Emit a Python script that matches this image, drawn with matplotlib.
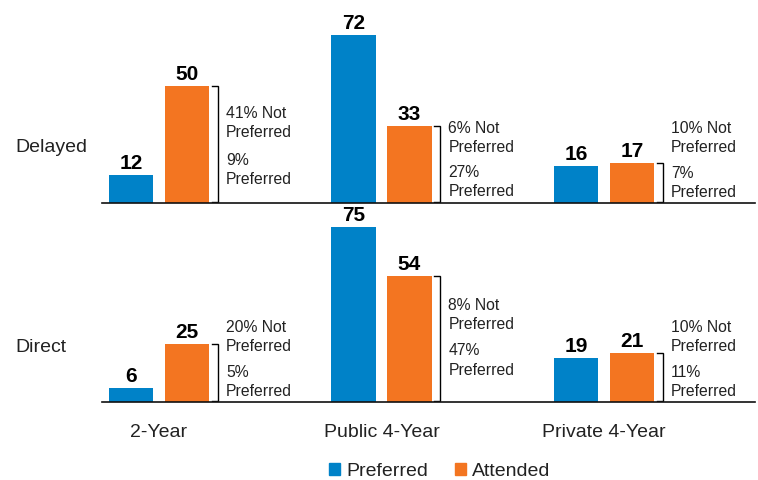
import matplotlib
matplotlib.use("Agg")
from matplotlib import pyplot as plt
from matplotlib.patches import Patch
import numpy as np

plt.rcParams["font.family"] = ["Liberation Sans", "DejaVu Sans"]

# data
groups = ["2-Year", "Public 4-Year", "Private 4-Year"]
panels = ["Delayed", "Direct"]
preferred = {"Delayed": [12, 72, 16], "Direct": [6, 75, 19]}
attended = {"Delayed": [50, 33, 17], "Direct": [25, 54, 21]}
not_pref_pct = {"Delayed": [41, 6, 10], "Direct": [20, 8, 10]}
pref_pct = {"Delayed": [9, 27, 7], "Direct": [5, 47, 11]}

# where the two note blocks sit (data units above the baseline)
note_upper = {"Delayed": [34.6, 28.2, 28.2], "Direct": [28.2, 37.6, 28.2]}
note_lower = {"Delayed": [14.5, 9.4, 9.0], "Direct": [9.0, 18.0, 9.0]}

blue = "#0082C8"
orange = "#F37521"
txt = "#222222"

fig = plt.figure(figsize=(7.58, 4.81), dpi=100)
W, H = 758, 481
left, right = 102 / W, 755 / W
ax_top = fig.add_axes([left, (H - 204) / H, right - left, 194 / H])
ax_bot = fig.add_axes([left, (H - 403) / H, right - left, 188 / H])
scale = 2.34  # px per unit

x = np.arange(len(groups))
w = 0.2
off = 0.125

for ax, panel, top_px in [(ax_top, "Delayed", 194), (ax_bot, "Direct", 188)]:
    p = preferred[panel]
    a = attended[panel]
    b1 = ax.bar(x - off, p, w, color=blue)
    b2 = ax.bar(x + off, a, w, color=orange)
    for bars in (b1, b2):
        for r in bars:
            ax.annotate(str(int(r.get_height())),
                        (r.get_x() + r.get_width() / 2, r.get_height()),
                        xytext=(0, 5), textcoords="offset points",
                        ha="center", va="baseline", fontsize=15,
                        fontweight="bold", color="black")
    for i in range(len(groups)):
        bx = x[i] + off + w / 2 + 0.038
        h = a[i]
        ax.plot([bx - 0.026, bx, bx, bx - 0.026], [h, h, 0.6, 0.6],
                color="black", lw=1, solid_joinstyle="miter")
        ax.text(x[i] + 0.301, note_upper[panel][i],
                f"{not_pref_pct[panel][i]}% Not\nPreferred",
                ha="left", va="center", fontsize=11.3, linespacing=1.4,
                color=txt)
        ax.text(x[i] + 0.301, note_lower[panel][i],
                f"{pref_pct[panel][i]}%\nPreferred",
                ha="left", va="center", fontsize=11.3, linespacing=1.4,
                color=txt)
    ax.set_xlim(-57 / 222.5, 596 / 222.5)
    ax.set_ylim(0, top_px / scale)
    for s in ["top", "right", "left"]:
        ax.spines[s].set_visible(False)
    ax.spines["bottom"].set_linewidth(1.2)
    ax.spines["bottom"].set_color("#111111")
    ax.set_xticks([])
    ax.set_yticks([])
    ax.patch.set_visible(False)

fig.text(15 / W, 1 - 148 / H, "Delayed", fontsize=14, color=txt,
         ha="left", va="center")
fig.text(15 / W, 1 - 348 / H, "Direct", fontsize=14, color=txt,
         ha="left", va="center")

for i, g in enumerate(groups):
    ax_bot.annotate(g, (x[i], 0), xycoords=("data", "axes fraction"),
                    xytext=(0, -21), textcoords="offset points",
                    ha="center", va="center", fontsize=14, color=txt)

handles = [Patch(color=blue, label="Preferred"),
           Patch(color=orange, label="Attended")]
fig.legend(handles=handles, loc="center", bbox_to_anchor=(440 / W, 1 - 472 / H),
           ncol=2, frameon=False, fontsize=14, handlelength=0.57,
           handleheight=0.57, handletextpad=0.3, columnspacing=1.4,
           labelcolor=txt)

fig.savefig("out.png", dpi=100)
